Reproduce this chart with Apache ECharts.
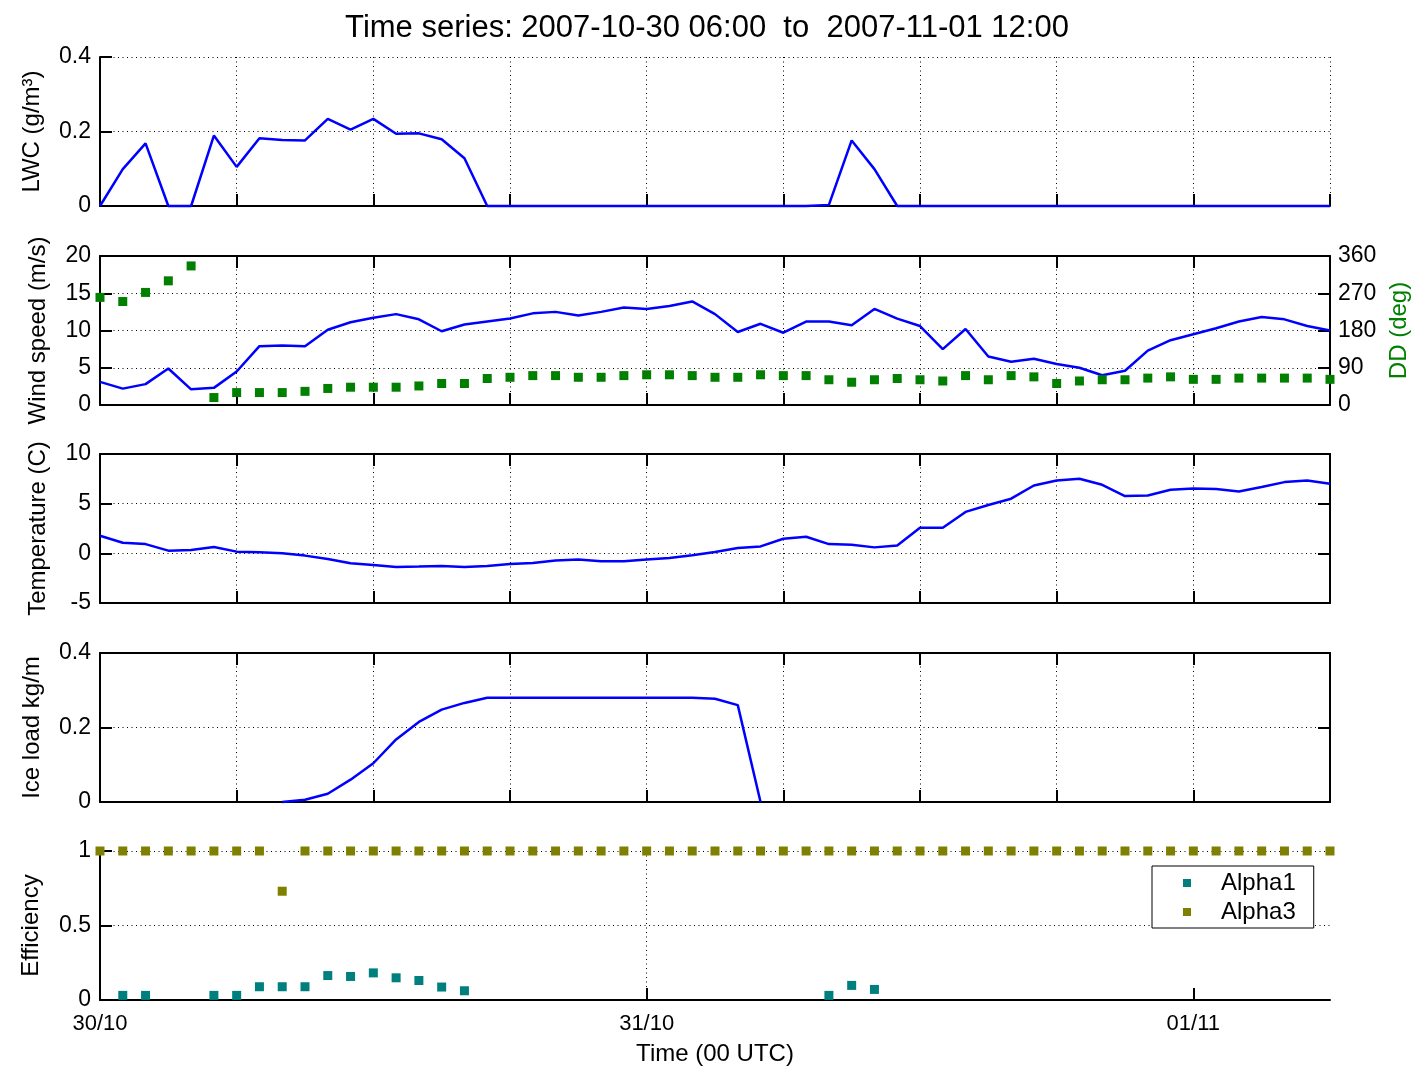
<!DOCTYPE html>
<html>
<head>
<meta charset="utf-8">
<title>Time series</title>
<script src="https://cdn.jsdelivr.net/npm/echarts@6/dist/echarts.min.js"></script>
<style>
  html, body { margin: 0; padding: 0; background: #fff; }
  #chart { width: 1414px; height: 1066px; }
</style>
</head>
<body>
<div id="chart"></div>
<script>
// Hourly samples, hour 0 .. 54 of the period
const hours = [0, 1, 2, 3, 4, 5, 6, 7, 8, 9, 10, 11, 12, 13, 14, 15, 16, 17, 18, 19,
  20, 21, 22, 23, 24, 25, 26, 27, 28, 29, 30, 31, 32, 33, 34, 35, 36, 37, 38, 39,
  40, 41, 42, 43, 44, 45, 46, 47, 48, 49, 50, 51, 52, 53, 54];

// Day labels placed every 24 h
const dayLabels = ['30/10', '31/10', '01/11'];

// Liquid water content (g/m3)
const lwc = [0, 0.099, 0.168, 0, 0, 0.189, 0.105, 0.182, 0.177, 0.176,
  0.234, 0.205, 0.234, 0.194, 0.195, 0.179, 0.128, 0, 0, 0,
  0, 0, 0, 0, 0, 0, 0, 0, 0, 0,
  0, 0, 0.003, 0.176, 0.099, 0, 0, 0, 0, 0,
  0, 0, 0, 0, 0, 0, 0, 0, 0, 0,
  0, 0, 0, 0, 0];

// Wind speed (m/s)
const windSpeed = [3.1, 2.2, 2.8, 4.9, 2.1, 2.3, 4.5, 7.9, 8.0, 7.9,
  10.1, 11.1, 11.7, 12.2, 11.5, 9.9, 10.8, 11.2, 11.6, 12.3,
  12.5, 12.0, 12.5, 13.1, 12.9, 13.3, 13.9, 12.2, 9.8, 10.9,
  9.7, 11.2, 11.2, 10.7, 12.9, 11.6, 10.6, 7.5, 10.2, 6.5,
  5.8, 6.2, 5.5, 5.0, 4.0, 4.6, 7.3, 8.7, 9.5, 10.3,
  11.2, 11.8, 11.5, 10.6, 10.0];

// Wind direction (deg)
const windDir = [260, 250, 272, 300, 336, 18, 30, 30, 30, 33,
  40, 43, 43, 43, 46, 52, 52, 64, 67, 71,
  71, 67, 67, 71, 73, 73, 71, 67, 67, 73,
  71, 71, 61, 55, 61, 64, 61, 58, 71, 61,
  71, 68, 52, 58, 61, 61, 65, 68, 62, 62,
  65, 65, 65, 65, 62];

// Air temperature (C)
const temperature = [1.77, 1.07, 0.93, 0.27, 0.33, 0.63, 0.17, 0.1, 0, -0.23,
  -0.57, -1.0, -1.17, -1.37, -1.33, -1.27, -1.37, -1.27, -1.07, -0.97,
  -0.73, -0.63, -0.8, -0.8, -0.63, -0.47, -0.2, 0.13, 0.53, 0.7,
  1.47, 1.67, 0.93, 0.87, 0.6, 0.8, 2.57, 2.57, 4.17, 4.87,
  5.5, 6.83, 7.33, 7.5, 6.9, 5.77, 5.83, 6.4, 6.53, 6.47,
  6.23, 6.67, 7.17, 7.33, 7.0];

// Ice load (kg/m); null where no ice was registered
const iceLoad = [null, null, null, null, null, null, null, null, 0, 0.006,
  0.022, 0.06, 0.104, 0.168, 0.215, 0.248, 0.266, 0.28, 0.28, 0.28,
  0.28, 0.28, 0.28, 0.28, 0.28, 0.28, 0.28, 0.277, 0.26, 0,
  null, null, null, null, null, null, null, null, null, null,
  null, null, null, null, null, null, null, null, null, null,
  null, null, null, null, null];

// Collision efficiencies
const alpha1 = [null, 0.031, 0.031, null, null, 0.031, 0.031, 0.089, 0.089, 0.089,
  0.164, 0.158, 0.182, 0.149, 0.131, 0.087, 0.062, null, null, null,
  null, null, null, null, null, null, null, null, null, null,
  null, null, 0.031, 0.098, 0.071, null, null, null, null, null,
  null, null, null, null, null, null, null, null, null, null,
  null, null, null, null, null];

const alpha3 = [1, 1, 1, 1, 1, 1, 1, 1, 0.73, 1,
  1, 1, 1, 1, 1, 1, 1, 1, 1, 1,
  1, 1, 1, 1, 1, 1, 1, 1, 1, 1,
  1, 1, 1, 1, 1, 1, 1, 1, 1, 1,
  1, 1, 1, 1, 1, 1, 1, 1, 1, 1,
  1, 1, 1, 1, 1];

const FONT = "'Liberation Sans', Arial, Helvetica, sans-serif";
const BLUE = '#0000ff';
const GREEN = '#007f00';
const TEAL = '#007f7f';
const OLIVE = '#7f7f00';

const pair = (ys) => hours.map((h, i) => [h, ys[i] == null ? '-' : ys[i]]);

const dotted = { type: [1, 3.5], color: '#000', width: 1 };
const axisLineStyle = { show: true, onZero: false, lineStyle: { color: '#000', width: 2 } };
const tickStyle = { show: true, inside: true, length: 12, lineStyle: { color: '#000', width: 2 } };
const labelStyle = { color: '#000', fontSize: 23, fontFamily: FONT };
const nameStyle = { color: '#000', fontSize: 24, fontFamily: FONT };

const panels = [
  { top: 57,  min: 0,  max: 0.4, interval: 0.2, name: 'LWC (g/m³)',       nameGap: 56, box: false },
  { top: 256, min: 0,  max: 20,  interval: 5,   name: 'Wind speed (m/s)', nameGap: 50, box: true,
    right: { min: 0, max: 360, interval: 90, name: 'DD (deg)', labels: true } },
  { top: 454, min: -5, max: 10,  interval: 5,   name: 'Temperature (C)',  nameGap: 50, box: true },
  { top: 653, min: 0,  max: 0.4, interval: 0.2, name: 'Ice load kg/m',    nameGap: 56, box: true },
  { top: 851, min: 0,  max: 1,   interval: 0.5, name: 'Efficiency',       nameGap: 57, box: false, last: true }
];

const grids = [], xAxes = [], yAxes = [], idx = [];

panels.forEach((p, i) => {
  grids.push({ left: 100, right: 84, top: p.top, height: 149, containLabel: false, outerBoundsMode: 'none' });
  const r = {};

  // bottom time axis
  r.x = xAxes.length;
  const dayTicks = [0, 24, 48];
  xAxes.push({
    gridIndex: i, type: 'value', position: 'bottom',
    min: 0, max: 54, interval: p.last ? 24 : 6,
    axisLine: axisLineStyle,
    axisTick: p.last ? Object.assign({ customValues: dayTicks }, tickStyle) : tickStyle,
    axisLabel: p.last ? Object.assign({
      show: true, margin: 13, customValues: dayTicks,
      formatter: (v) => (v % 24 === 0 && dayLabels[v / 24]) ? dayLabels[v / 24] : ''
    }, labelStyle, { fontSize: 22 }) : { show: false },
    splitLine: { show: true, showMinLine: false, showMaxLine: !p.last, lineStyle: dotted },
    name: p.last ? 'Time (00 UTC)' : '',
    nameLocation: 'middle', nameGap: 42, nameTextStyle: nameStyle
  });
  if (p.box) {
    xAxes.push({
      gridIndex: i, type: 'value', position: 'top',
      min: 0, max: 54, interval: 6,
      axisLine: axisLineStyle, axisTick: tickStyle,
      axisLabel: { show: false }, splitLine: { show: false }
    });
  }

  // left value axis
  r.y = yAxes.length;
  yAxes.push({
    gridIndex: i, type: 'value', position: 'left',
    min: p.min, max: p.max, interval: p.interval,
    axisLine: axisLineStyle, axisTick: tickStyle,
    axisLabel: Object.assign({ show: true, margin: 9, padding: [4, 0, 0, 0] }, labelStyle),
    splitLine: { show: true, showMinLine: false, showMaxLine: true, lineStyle: dotted },
    name: p.name, nameLocation: 'middle', nameRotate: 90, nameGap: p.nameGap,
    nameTextStyle: nameStyle
  });

  // right axis: closes the box, or carries the direction scale
  if (p.box) {
    r.y2 = yAxes.length;
    const rt = p.right || { min: p.min, max: p.max, interval: p.interval, name: '', labels: false };
    yAxes.push({
      gridIndex: i, type: 'value', position: 'right',
      min: rt.min, max: rt.max, interval: rt.interval,
      axisLine: axisLineStyle, axisTick: tickStyle,
      axisLabel: Object.assign({ show: rt.labels, margin: 8, padding: [4, 0, 0, 0] }, labelStyle),
      splitLine: { show: false },
      name: rt.name, nameLocation: 'middle', nameRotate: 90, nameGap: 56,
      nameTextStyle: Object.assign({}, nameStyle, { color: GREEN })
    });
  }
  idx.push(r);
});

const lineSeries = (data, k) => ({
  type: 'line', xAxisIndex: idx[k].x, yAxisIndex: idx[k].y,
  data: pair(data), showSymbol: false, symbol: 'none', connectNulls: false, clip: false,
  lineStyle: { color: BLUE, width: 2.5, opacity: 1 }, itemStyle: { color: BLUE }, z: 3
});

const scatterSeries = (name, data, k, yKey, color) => ({
  type: 'scatter', name, xAxisIndex: idx[k].x, yAxisIndex: idx[k][yKey],
  data: pair(data), symbol: 'rect', symbolSize: 9, clip: false,
  itemStyle: { color, opacity: 1 }, z: 3
});

const option = {
  animation: false,
  backgroundColor: '#fff',
  textStyle: { fontFamily: FONT },
  title: {
    text: 'Time series: 2007-10-30 06:00  to  2007-11-01 12:00',
    left: 'center', top: 13, padding: 0,
    textStyle: { color: '#000', fontSize: 31, fontWeight: 'normal', fontFamily: FONT }
  },
  legend: {
    data: ['Alpha1', 'Alpha3'],
    orient: 'vertical', left: 1152, top: 866,
    padding: [5, 18, 4, 31], itemGap: 5,
    icon: 'rect', itemWidth: 8, itemHeight: 8,
    borderColor: '#000', borderWidth: 1, borderRadius: 0, backgroundColor: '#fff',
    itemStyle: { opacity: 1 },
    textStyle: { color: '#000', fontSize: 24, fontFamily: FONT, padding: [0, 0, 0, 25] }
  },
  grid: grids,
  xAxis: xAxes,
  yAxis: yAxes,
  series: [
    lineSeries(lwc, 0),
    lineSeries(windSpeed, 1),
    scatterSeries('DD', windDir, 1, 'y2', GREEN),
    lineSeries(temperature, 2),
    lineSeries(iceLoad, 3),
    scatterSeries('Alpha1', alpha1, 4, 'y', TEAL),
    scatterSeries('Alpha3', alpha3, 4, 'y', OLIVE)
  ]
};

const chart = echarts.init(document.getElementById('chart'), null, { renderer: 'canvas' });
chart.setOption(option);
</script>
</body>
</html>
